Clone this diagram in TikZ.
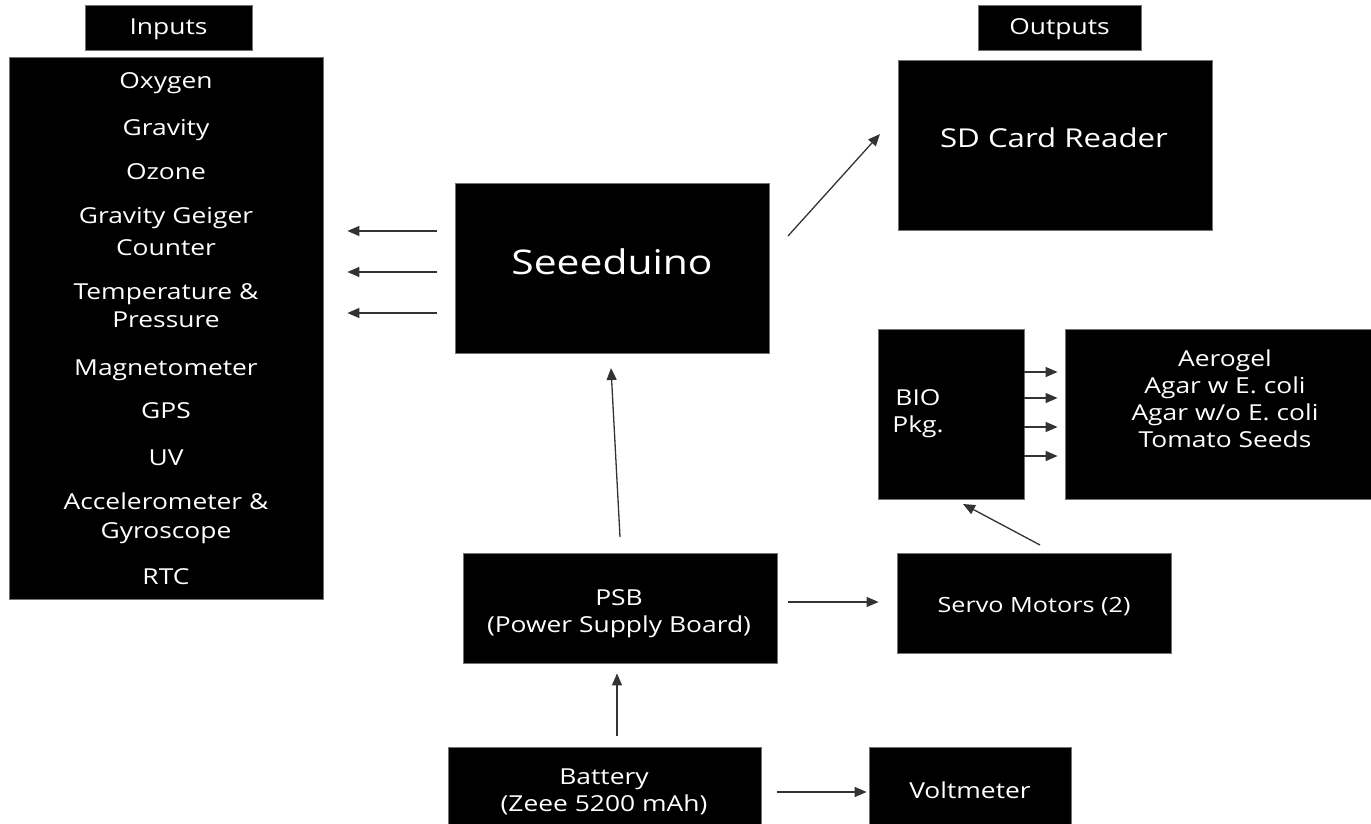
\documentclass[tikz,border=0pt]{standalone}
\usepackage{fontspec}
\setmainfont{Open Sans}[FakeStretch=1.2]
\usetikzlibrary{arrows.meta}
\begin{document}
\begin{tikzpicture}[x=1pt,y=-1pt,
  blk/.style={fill=black,draw=black!55,line width=0.8pt,inner sep=0pt},
  txt/.style={text=white,inner sep=0pt,align=center,anchor=base,font=\fontsize{22}{27}\selectfont},
  arr/.style={draw=black!80,line width=1.3pt,-{Triangle[length=12pt,width=10pt]}}]
\useasboundingbox (0,0) rectangle (1371,824);
% boxes
\node[blk,minimum width=167pt,minimum height=45pt] (inlbl) at (168.5,27.5) {};
\node[blk,minimum width=314pt,minimum height=542pt] (inbox) at (166,328) {};
\node[blk,minimum width=163pt,minimum height=45pt] (outlbl) at (1059.5,27.5) {};
\node[blk,minimum width=314pt,minimum height=170pt] (sd) at (1055,145) {};
\node[blk,minimum width=314pt,minimum height=170pt] (seeed) at (612,268) {};
\node[blk,minimum width=146pt,minimum height=170pt] (bio) at (951,414) {};
\node[blk,minimum width=306pt,minimum height=170pt] (biolist) at (1218,414) {};
\node[blk,minimum width=314pt,minimum height=110pt] (psb) at (620,608) {};
\node[blk,minimum width=274pt,minimum height=100pt] (servo) at (1034,603) {};
\node[blk,minimum width=313pt,minimum height=90pt] (battery) at (604.5,792) {};
\node[blk,minimum width=202pt,minimum height=90pt] (volt) at (970,792) {};
% texts
\node[txt] (tin) at (168.5,35) {Inputs};
\node[txt] (tout) at (1059.5,35) {Outputs};
\node[txt] (t1) at (166,89) {Oxygen};
\node[txt] (t2) at (166,136) {Gravity};
\node[txt] (t3) at (166,179) {Ozone};
\node[txt] (t4) at (166,223) {Gravity Geiger};
\node[txt] (t5) at (166,255) {Counter};
\node[txt] (t6) at (166,299) {Temperature \&};
\node[txt] (t7) at (166,327) {Pressure};
\node[txt] (t8) at (166,375) {Magnetometer};
\node[txt] (t9) at (166,418) {GPS};
\node[txt] (t10) at (166,465) {UV};
\node[txt] (t11) at (166,509) {Accelerometer \&};
\node[txt] (t12) at (166,538) {Gyroscope};
\node[txt] (t13) at (166,584) {RTC};
\node[txt,font=\fontsize{34}{40}\selectfont] (tseeed) at (612,274) {Seeeduino};
\node[txt,font=\fontsize{26}{32}\selectfont] (tsd) at (1054,147.5) {SD Card Reader};
\node[txt] (tbio) at (918,432) {BIO\\Pkg.};
\node[txt] (tlist) at (1225,447) {Aerogel\\Agar w E. coli\\Agar w/o E. coli\\Tomato Seeds};
\node[txt] (tpsb) at (619,632) {PSB\\(Power Supply Board)};
\node[txt,font=\fontsize{21}{27}\selectfont] (tservo) at (1034,612) {Servo Motors (2)};
\node[txt] (tbat) at (604,811) {Battery\\(Zeee 5200 mAh)};
\node[txt] (tvolt) at (970,798) {Voltmeter};
% connectors
\foreach \yy in {231,272,313}
  \draw[arr,shorten <=18pt,shorten >=24pt] (seeed.west |- 0,\yy) -- (inbox.east |- 0,\yy);
\coordinate (sdtail) at (788,236);
\coordinate (sdtip) at (880,134);
\draw[arr] (sdtail) -- (sdtip);
\coordinate (psbtail) at (620,537);
\coordinate (seeedtip) at (611,368);
\draw[arr] (psbtail) -- (seeedtip);
\foreach \yy in {372,398,427,456}
  \draw[arr,shorten >=7pt] (bio.east |- 0,\yy) -- (biolist.west |- 0,\yy);
\coordinate (servotail) at (1040,545);
\coordinate (biotip) at (963,504);
\draw[arr] (servotail) -- (biotip);
\draw[arr,shorten <=11pt,shorten >=18pt] (psb.east |- 0,602) -- (servo.west |- 0,602);
\draw[arr,shorten <=11pt,shorten >=10pt] (battery.north -| 617,0) -- (psb.south -| 617,0);
\draw[arr,shorten <=16pt,shorten >=2pt] (battery.east |- 0,792) -- (volt.west |- 0,792);
\end{tikzpicture}
\end{document}
